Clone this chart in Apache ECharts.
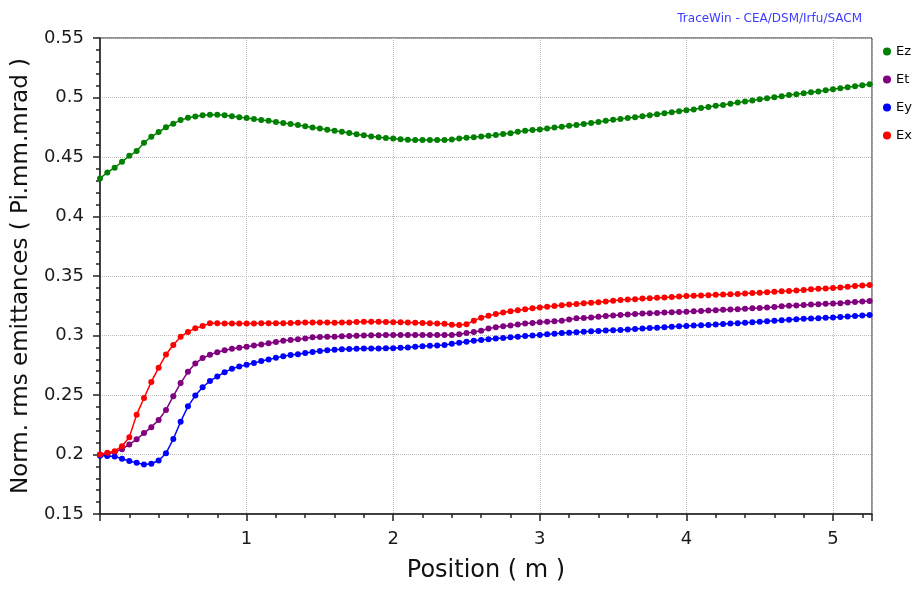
<!DOCTYPE html>
<html>
<head>
<meta charset="utf-8">
<script src="https://cdn.jsdelivr.net/npm/echarts@6/dist/echarts.min.js"></script>
<style>html,body{margin:0;padding:0;background:#fff}#c{width:917px;height:590px}</style>
</head>
<body>
<div id="c"></div>
<script>
var position = [0.00,0.05,0.10,0.15,0.20,0.25,0.30,0.35,0.40,0.45,0.50,0.55,0.60,0.65,0.70,0.75,0.80,0.85,0.90,0.95,
1.00,1.05,1.10,1.15,1.20,1.25,1.30,1.35,1.40,1.45,1.50,1.55,1.60,1.65,1.70,1.75,1.80,1.85,1.90,1.95,
2.00,2.05,2.10,2.15,2.20,2.25,2.30,2.35,2.40,2.45,2.50,2.55,2.60,2.65,2.70,2.75,2.80,2.85,2.90,2.95,
3.00,3.05,3.10,3.15,3.20,3.25,3.30,3.35,3.40,3.45,3.50,3.55,3.60,3.65,3.70,3.75,3.80,3.85,3.90,3.95,
4.00,4.05,4.10,4.15,4.20,4.25,4.30,4.35,4.40,4.45,4.50,4.55,4.60,4.65,4.70,4.75,4.80,4.85,4.90,4.95,
5.00,5.05,5.10,5.15,5.20,5.25];

var Ez = [0.432,0.437,0.441,0.446,0.451,0.455,0.462,0.467,0.471,0.475,0.478,0.481,0.483,0.484,0.485,0.4855,0.4855,0.485,0.4843,0.4835,
0.4828,0.482,0.481,0.4805,0.4795,0.4785,0.4777,0.4768,0.4758,0.4748,0.474,0.473,0.472,0.4712,0.4702,0.4692,0.4683,0.4672,0.4665,0.466,
0.4655,0.465,0.4645,0.4643,0.4642,0.4642,0.4643,0.4643,0.4648,0.4655,0.4662,0.4667,0.4672,0.4678,0.4685,0.4693,0.470,0.4712,0.472,0.4726,
0.4732,0.474,0.4748,0.4755,0.4762,0.4768,0.4777,0.4785,0.4795,0.4805,0.4812,0.482,0.4828,0.4835,0.4843,0.485,0.486,0.4868,0.4876,0.4885,
0.4893,0.490,0.4912,0.492,0.493,0.4938,0.4948,0.4957,0.4967,0.4975,0.4985,0.4993,0.5003,0.501,0.502,0.5028,0.5036,0.5044,0.505,0.506,
0.507,0.5078,0.5087,0.5095,0.5103,0.5111];

var Et = [0.200,0.2005,0.202,0.2045,0.2085,0.2128,0.218,0.223,0.229,0.2375,0.249,0.260,0.2695,0.2765,0.281,0.2838,0.286,0.2876,0.2888,0.2898,
0.2906,0.2915,0.2925,0.2935,0.2945,0.2955,0.2962,0.2968,0.2975,0.2985,0.2988,0.299,0.299,0.2993,0.2996,0.2998,0.300,0.3002,0.3003,0.3004,
0.3004,0.3004,0.3004,0.3004,0.3004,0.3004,0.3004,0.3004,0.3005,0.301,0.302,0.303,0.304,0.3058,0.307,0.3077,0.3085,0.3092,0.310,0.3106,
0.3112,0.3116,0.312,0.3125,0.3135,0.3145,0.3148,0.3152,0.3158,0.3163,0.3168,0.3172,0.3176,0.318,0.3184,0.3187,0.319,0.3193,0.3196,0.3198,
0.320,0.3203,0.3206,0.321,0.3213,0.3216,0.3218,0.322,0.3224,0.3228,0.3232,0.3236,0.324,0.3245,0.3249,0.3253,0.3257,0.326,0.3263,0.3266,
0.3268,0.3272,0.3277,0.3282,0.3286,0.329];

var Ey = [0.199,0.1988,0.1983,0.1965,0.1945,0.193,0.1915,0.1922,0.195,0.201,0.213,0.2275,0.2405,0.2495,0.2565,0.2618,0.2655,0.2692,0.272,0.274,
0.2755,0.2768,0.2785,0.2798,0.2812,0.2825,0.2836,0.2843,0.2852,0.2862,0.287,0.2876,0.288,0.2884,0.2886,0.2888,0.289,0.289,0.2891,0.2892,
0.2893,0.2897,0.290,0.2905,0.291,0.2913,0.2916,0.292,0.293,0.294,0.2948,0.2955,0.2962,0.2968,0.2974,0.298,0.2985,0.299,0.2995,0.300,
0.3005,0.301,0.3015,0.302,0.3024,0.3028,0.3031,0.3035,0.3038,0.3042,0.3044,0.3046,0.305,0.3054,0.3058,0.3062,0.3066,0.3069,0.3073,0.3077,
0.308,0.3083,0.3086,0.3089,0.3093,0.3096,0.310,0.3103,0.3107,0.3111,0.3115,0.3119,0.3123,0.3128,0.3132,0.3136,0.314,0.3143,0.3146,0.315,
0.3152,0.3156,0.316,0.3164,0.3168,0.3172];

var Ex = [0.200,0.2015,0.2028,0.207,0.2145,0.2335,0.2475,0.261,0.273,0.284,0.292,0.299,0.303,0.306,0.308,0.3102,0.3102,0.310,0.310,0.310,
0.310,0.310,0.3102,0.3102,0.3102,0.3103,0.3105,0.3108,0.311,0.311,0.311,0.3109,0.3108,0.3109,0.311,0.3113,0.3115,0.3115,0.3115,0.3114,
0.3112,0.3111,0.311,0.3108,0.3105,0.3102,0.310,0.3098,0.309,0.3088,0.3095,0.3125,0.315,0.3165,0.318,0.3193,0.3203,0.3212,0.322,0.3228,
0.3235,0.3242,0.3248,0.3255,0.326,0.3265,0.327,0.3275,0.328,0.3285,0.3292,0.3298,0.3302,0.3305,0.331,0.3313,0.3317,0.332,0.3323,0.3327,
0.3332,0.3334,0.3337,0.3339,0.3342,0.3344,0.3347,0.3349,0.3353,0.3357,0.336,0.3364,0.3367,0.3371,0.3375,0.3379,0.3383,0.3388,0.3392,0.3396,
0.340,0.3404,0.341,0.3415,0.342,0.3424];

var seriesNames = ['Ez','Et','Ey','Ex'];
var seriesColors = ['#008000','#800080','#0000ff','#ff0000'];
var seriesValues = [Ez, Et, Ey, Ex];
var xTickLabels = ['1','2','3','4','5'];
var yTickLabels = ['0.15','0.2','0.25','0.3','0.35','0.4','0.45','0.5','0.55'];

function pairs(ys){ return position.map(function(x,i){ return [x, ys[i]]; }); }

var font = 'DejaVu Sans';
var chart = echarts.init(document.getElementById('c'), null, {renderer:'canvas'});
chart.setOption({
  animation: false,
  backgroundColor: '#fff',
  title: {
    text: 'TraceWin - CEA/DSM/Irfu/SACM',
    right: 50, top: 8,
    textStyle: {color:'#3c3cff', fontSize: 12, fontWeight:'normal', fontFamily: font}
  },
  legend: {
    orient: 'vertical', left: 878, top: 40,
    itemWidth: 8, itemHeight: 8, itemGap: 15,
    icon: 'circle',
    textStyle: {color:'#000', fontSize: 13, fontFamily: font},
    data: seriesNames
  },
  grid: {left: 100, top: 38, width: 772, height: 476, show: true, borderColor: '#222', borderWidth: 1},
  xAxis: {
    type: 'value', min: 0, max: 5.266, interval: 1,
    name: 'Position ( m )', nameLocation: 'middle', nameGap: 45,
    nameTextStyle: {fontSize: 24, color: '#111', fontFamily: font},
    axisLine: {show: true, onZero: false, lineStyle: {color:'#222', width: 1.5}},
    axisTick: {show: true, length: 7, lineStyle: {color:'#222', width: 1.5}},
    minorTick: {show: true, splitNumber: 5, length: 4, lineStyle: {color:'#222', width: 1.5}},
    axisLabel: {
      fontSize: 18, color: '#1a1a1a', margin: 16, fontFamily: font,
      showMinLabel: false, showMaxLabel: false,
      formatter: function(v){ var i = Math.round(v) - 1; return (Math.abs(v - Math.round(v)) < 1e-6 && xTickLabels[i]) ? xTickLabels[i] : ''; }
    },
    splitLine: {show: true, lineStyle: {color:'#bbb', type: 'dotted', width: 1}}
  },
  yAxis: {
    type: 'value', min: 0.15, max: 0.55, interval: 0.05,
    name: 'Norm. rms emittances ( Pi.mm.mrad )', nameLocation: 'middle', nameGap: 64,
    nameTextStyle: {fontSize: 23, color: '#111', fontFamily: font},
    axisLine: {show: true, lineStyle: {color:'#222', width: 1.5}},
    axisTick: {show: true, length: 7, lineStyle: {color:'#222', width: 1.5}},
    minorTick: {show: true, splitNumber: 5, length: 4, lineStyle: {color:'#222', width: 1.5}},
    axisLabel: {
      fontSize: 18, color: '#1a1a1a', margin: 16, fontFamily: font,
      formatter: function(v){ var i = Math.round((v - 0.15) / 0.05); return yTickLabels[i] || ''; }
    },
    splitLine: {show: true, lineStyle: {color:'#bbb', type: 'dotted', width: 1}}
  },
  series: seriesNames.map(function(n, k){
    return {
      name: n, type: 'line', data: pairs(seriesValues[k]),
      symbol: 'circle', symbolSize: 6, showSymbol: true,
      lineStyle: {color: seriesColors[k], width: 1.5},
      itemStyle: {color: seriesColors[k]},
      z: 2 + k
    };
  })
});
</script>
</body>
</html>
